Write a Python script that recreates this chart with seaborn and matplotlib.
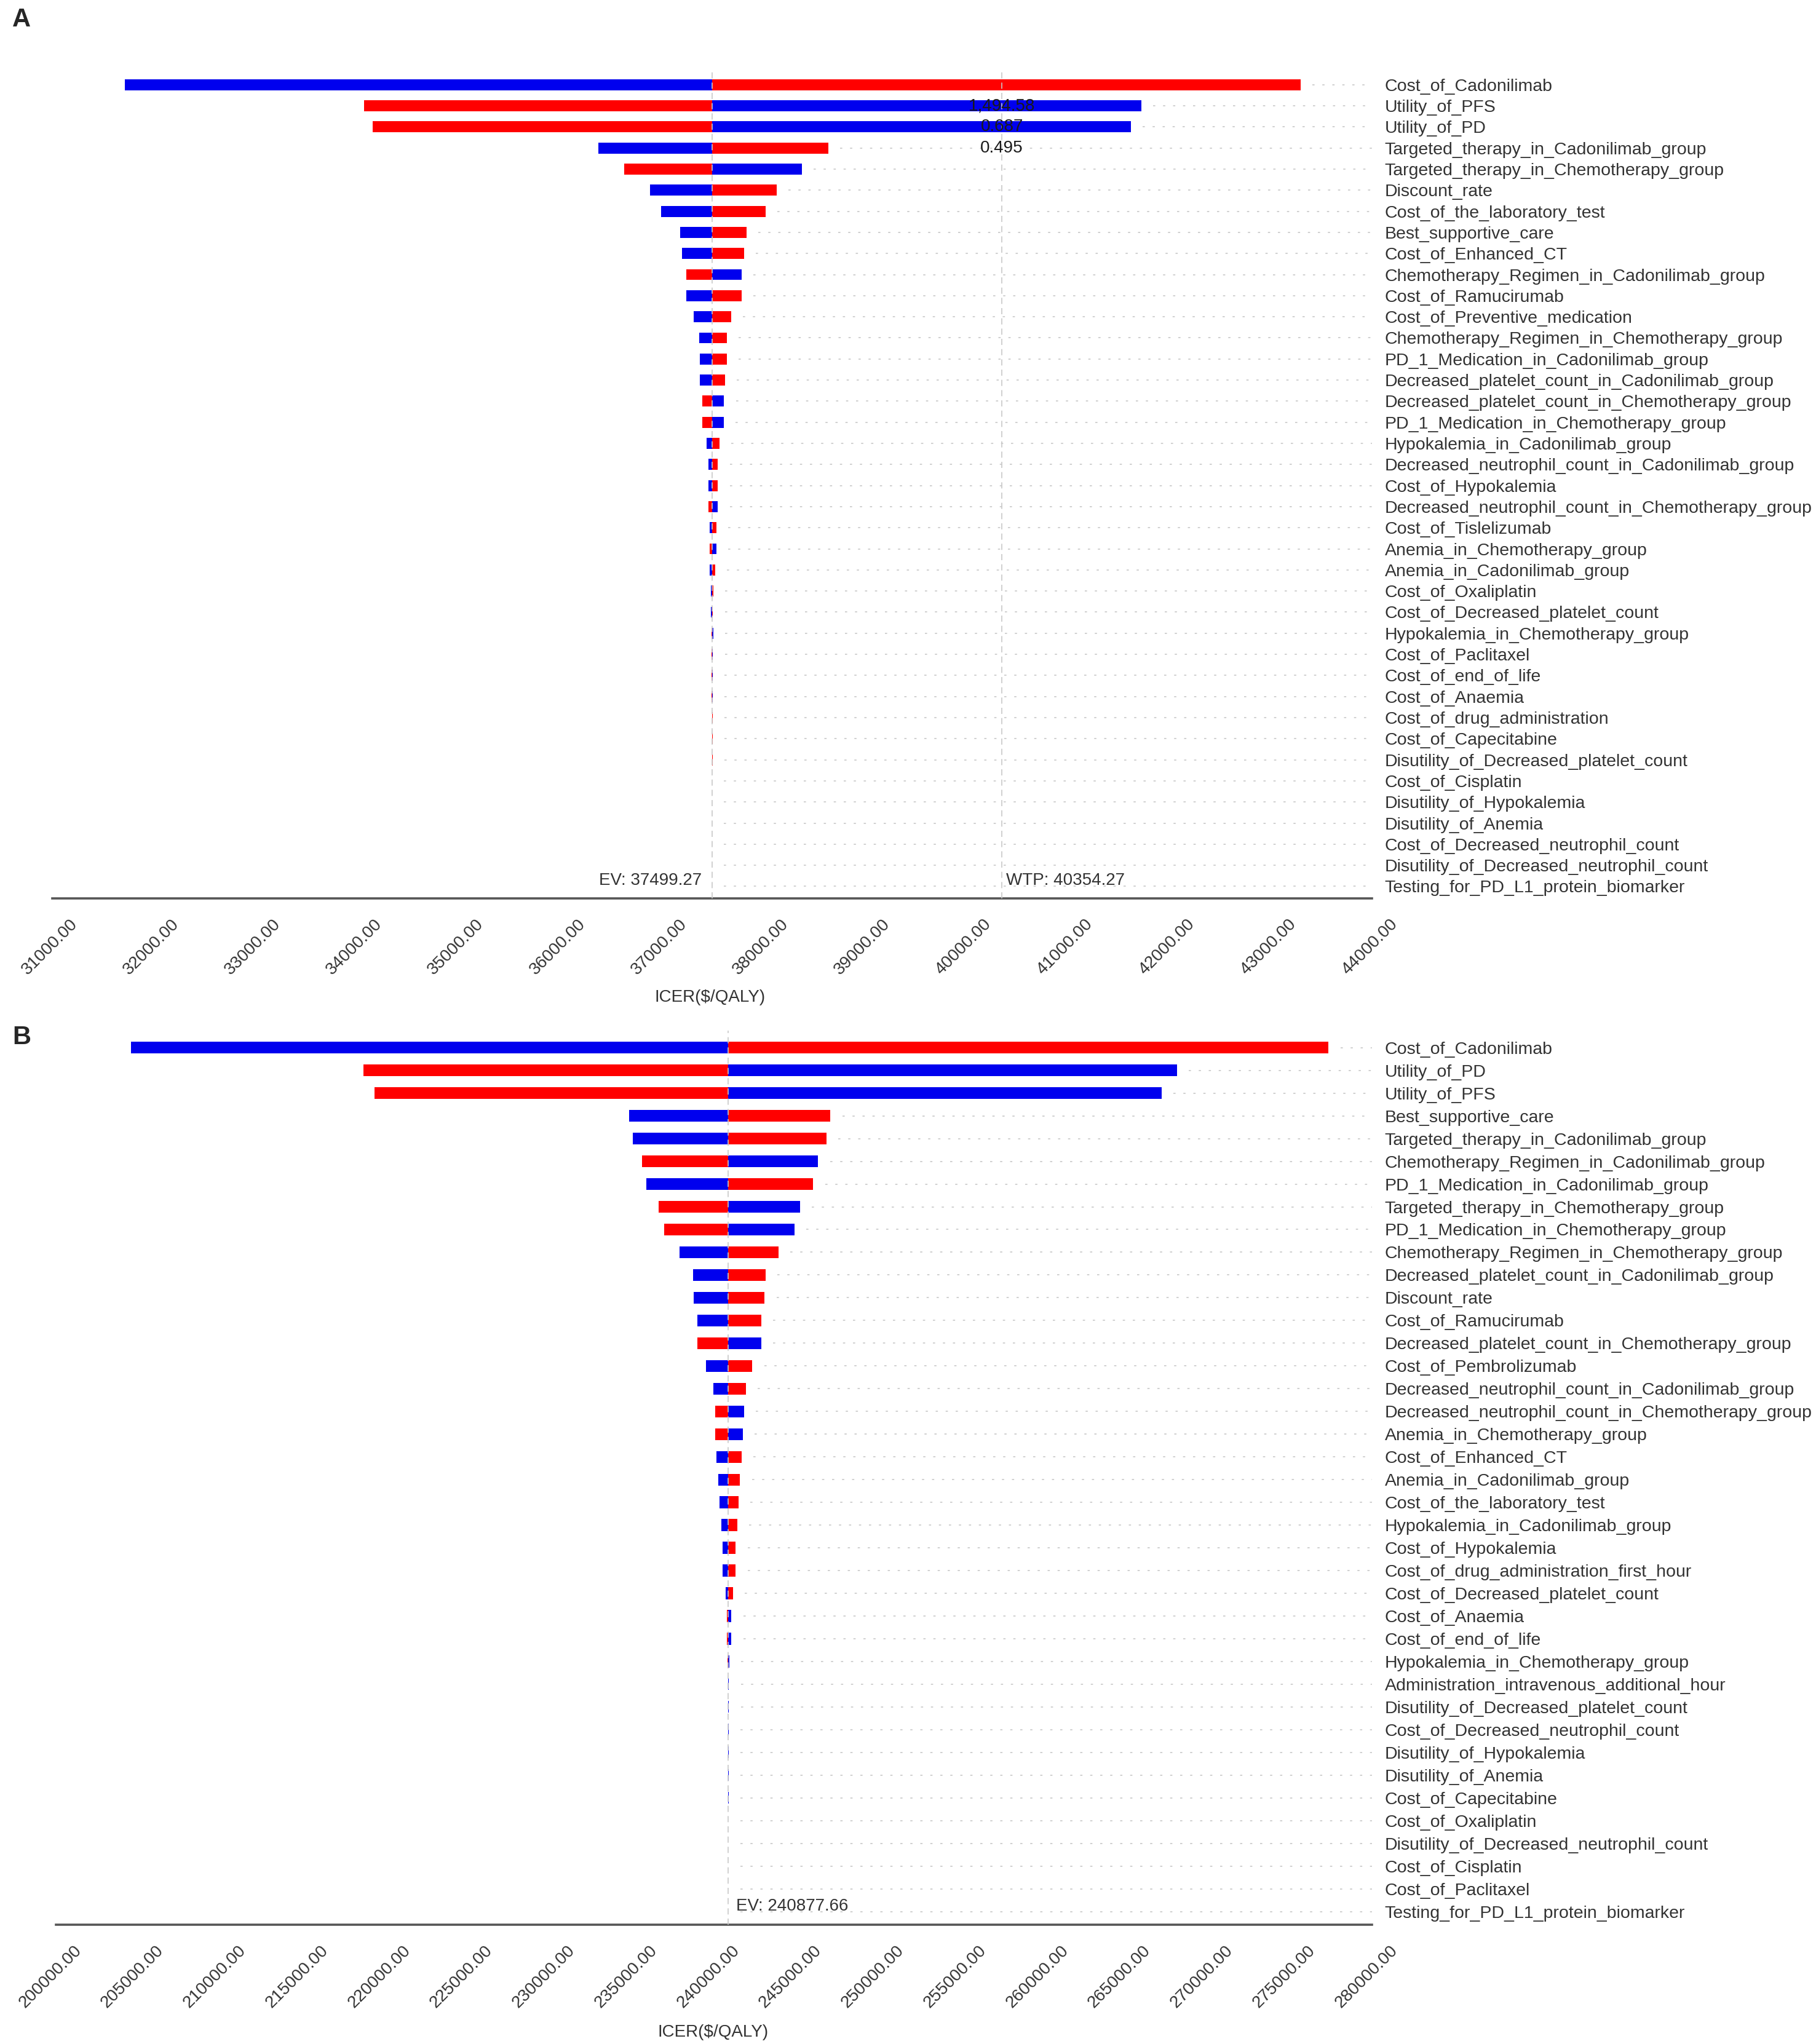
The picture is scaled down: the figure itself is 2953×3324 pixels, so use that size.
import numpy as np
import pandas as pd
import matplotlib
matplotlib.use('Agg')
import matplotlib.pyplot as plt
from matplotlib.transforms import ScaledTranslation
import seaborn as sns

# ---- panel A data (ICER at low value -> blue, at high value -> red)
labels_a = [
    'Cost_of_Cadonilimab', 'Utility_of_PFS', 'Utility_of_PD',
    'Targeted_therapy_in_Cadonilimab_group', 'Targeted_therapy_in_Chemotherapy_group',
    'Discount_rate', 'Cost_of_the_laboratory_test', 'Best_supportive_care',
    'Cost_of_Enhanced_CT', 'Chemotherapy_Regimen_in_Cadonilimab_group',
    'Cost_of_Ramucirumab', 'Cost_of_Preventive_medication',
    'Chemotherapy_Regimen_in_Chemotherapy_group', 'PD_1_Medication_in_Cadonilimab_group',
    'Decreased_platelet_count_in_Cadonilimab_group', 'Decreased_platelet_count_in_Chemotherapy_group',
    'PD_1_Medication_in_Chemotherapy_group', 'Hypokalemia_in_Cadonilimab_group',
    'Decreased_neutrophil_count_in_Cadonilimab_group', 'Cost_of_Hypokalemia',
    'Decreased_neutrophil_count_in_Chemotherapy_group', 'Cost_of_Tislelizumab',
    'Anemia_in_Chemotherapy_group', 'Anemia_in_Cadonilimab_group', 'Cost_of_Oxaliplatin',
    'Cost_of_Decreased_platelet_count', 'Hypokalemia_in_Chemotherapy_group', 'Cost_of_Paclitaxel',
    'Cost_of_end_of_life', 'Cost_of_Anaemia', 'Cost_of_drug_administration',
    'Cost_of_Capecitabine', 'Disutility_of_Decreased_platelet_count', 'Cost_of_Cisplatin',
    'Disutility_of_Hypokalemia', 'Disutility_of_Anemia', 'Cost_of_Decreased_neutrophil_count',
    'Disutility_of_Decreased_neutrophil_count', 'Testing_for_PD_L1_protein_biomarker',
]
low_a = [31717, 41727, 41625, 36378, 38382, 36888, 36998, 37185, 37202, 37788,
         37244, 37321, 37372, 37380, 37380, 37618, 37616, 37447, 37461, 37461,
         37556, 37475, 37541, 37477, 37489, 37489, 37510, 37508, 37507, 37506,
         37497, 37497, 37498, 37499.27, 37499.27, 37499.27, 37499.27, 37499.27, 37499.27]
high_a = [43298, 34069, 34154, 38645, 36633, 38136, 38025, 37839, 37813, 37244,
          37788, 37686, 37643, 37643, 37626, 37404, 37404, 37572, 37556, 37556,
          37461, 37541, 37475, 37530, 37511, 37509, 37496, 37496, 37495, 37496,
          37506, 37505, 37504, 37499.27, 37499.27, 37499.27, 37499.27, 37499.27, 37499.27]
ev_a = 37499.27
wtp_a = 40354.27
thresh_rows_a = [1, 2, 3]
thresh_text_a = ['1,494.58', '0.687', '0.495']
ticks_a = list(range(31000, 44001, 1000))

# ---- panel B data
labels_b = [
    'Cost_of_Cadonilimab', 'Utility_of_PD', 'Utility_of_PFS', 'Best_supportive_care',
    'Targeted_therapy_in_Cadonilimab_group', 'Chemotherapy_Regimen_in_Cadonilimab_group',
    'PD_1_Medication_in_Cadonilimab_group', 'Targeted_therapy_in_Chemotherapy_group',
    'PD_1_Medication_in_Chemotherapy_group', 'Chemotherapy_Regimen_in_Chemotherapy_group',
    'Decreased_platelet_count_in_Cadonilimab_group', 'Discount_rate', 'Cost_of_Ramucirumab',
    'Decreased_platelet_count_in_Chemotherapy_group', 'Cost_of_Pembrolizumab',
    'Decreased_neutrophil_count_in_Cadonilimab_group', 'Decreased_neutrophil_count_in_Chemotherapy_group',
    'Anemia_in_Chemotherapy_group', 'Cost_of_Enhanced_CT', 'Anemia_in_Cadonilimab_group',
    'Cost_of_the_laboratory_test', 'Hypokalemia_in_Cadonilimab_group', 'Cost_of_Hypokalemia',
    'Cost_of_drug_administration_first_hour', 'Cost_of_Decreased_platelet_count', 'Cost_of_Anaemia',
    'Cost_of_end_of_life', 'Hypokalemia_in_Chemotherapy_group', 'Administration_intravenous_additional_hour',
    'Disutility_of_Decreased_platelet_count', 'Cost_of_Decreased_neutrophil_count',
    'Disutility_of_Hypokalemia', 'Disutility_of_Anemia', 'Cost_of_Capecitabine', 'Cost_of_Oxaliplatin',
    'Disutility_of_Decreased_neutrophil_count', 'Cost_of_Cisplatin', 'Cost_of_Paclitaxel',
    'Testing_for_PD_L1_protein_biomarker',
]
low_b = [204549, 268150, 267199, 234823, 235073, 246332, 235874, 245231, 244881, 237925,
         238726, 238776, 238976, 242879, 239527, 239950, 241829, 241762, 240167, 240255,
         240354, 240441, 240529, 240529, 240716, 241065, 241065, 240920, 240915, 240910,
         240905, 240905, 240900, 240900, 240877.66, 240877.66, 240877.66, 240877.66, 240877.66]
high_b = [277357, 218710, 219361, 247083, 246833, 235624, 246032, 236624, 236975, 243930,
          243129, 243079, 242879, 238976, 242329, 241930, 240077, 240093, 241675, 241588,
          241501, 241413, 241326, 241326, 241152, 240800, 240800, 240840, 240845, 240850,
          240855, 240855, 240860, 240860, 240877.66, 240877.66, 240877.66, 240877.66, 240877.66]
ev_b = 240877.66
ticks_b = list(range(200000, 280001, 5000))

BLUE = '#0000EE'
RED = '#FF0000'
W, H = 2953, 3324

sns.set_style('white')
plt.rcParams['font.family'] = ['Liberation Sans', 'DejaVu Sans']

fig = plt.figure(figsize=(W / 100, H / 100), dpi=100)


def draw_panel(ax, labels, low, high, ev, ticks, ybottom=38.57, ytop=-0.75):
    df = pd.DataFrame({'label': labels,
                       'blue': np.array(low) - ev,
                       'red': np.array(high) - ev})
    sns.barplot(data=df, x='blue', y='label', color=BLUE, saturation=1, errorbar=None,
                width=0.52, left=ev, linewidth=0, ax=ax)
    sns.barplot(data=df, x='red', y='label', color=RED, saturation=1, errorbar=None,
                width=0.52, left=ev, linewidth=0, ax=ax)
    x0, x1 = ticks[0], ticks[-1]
    ax.set_xlim(x0, x1)
    ax.set_ylim(ybottom, ytop)
    gap = 0.009 * (x1 - x0)
    for i, (lo, hi) in enumerate(zip(low, high)):
        ax.hlines(i, max(ev, lo, hi) + gap, x1, color='#cdcdcd', lw=1.3,
                  linestyles=(0, (2, 7)), zorder=0)
    ax.axvline(ev, color='#c8c8c8', lw=1.2, ls=(0, (6, 4)), zorder=5)

    for s in ['left', 'right', 'top']:
        ax.spines[s].set_visible(False)
    ax.spines['bottom'].set_color('#555555')
    ax.spines['bottom'].set_linewidth(2.6)

    ax.yaxis.tick_right()
    ax.tick_params(axis='y', length=0, pad=15, labelsize=20.5, labelcolor='#333333')
    ax.set_ylabel('')

    ax.set_xticks(ticks)
    ax.set_xticklabels([f'{t:.2f}' for t in ticks], rotation=45, ha='right', va='top',
                       rotation_mode='anchor')
    ax.tick_params(axis='x', direction='inout', length=20, width=1.2, color='#777777',
                   labelsize=20, labelcolor='#333333', pad=11)
    off = ScaledTranslation(0.28, 0, fig.dpi_scale_trans)
    for lbl in ax.get_xticklabels():
        lbl.set_transform(lbl.get_transform() + off)
    ax.set_xlabel('')


# ---- panel A
ax_a = fig.add_axes([85 / W, 1 - 1461 / H, (2231 - 85) / W, (1461 - 112) / H])
draw_panel(ax_a, labels_a, low_a, high_a, ev_a, ticks_a)
ax_a.axvline(wtp_a, color='#c8c8c8', lw=1.2, ls=(0, (6, 4)), zorder=5)
for r, t in zip(thresh_rows_a, thresh_text_a):
    ax_a.text(wtp_a, r, t, ha='center', va='center', fontsize=20, color='#1a1a1a', zorder=6)
ax_a.annotate(f'EV: {ev_a:.2f}', (ev_a, 37.72), xytext=(-12, 0), textcoords='offset points',
              ha='right', va='center', fontsize=20, color='#333333')
ax_a.annotate(f'WTP: {wtp_a:.2f}', (wtp_a, 37.72), xytext=(5, 0), textcoords='offset points',
              ha='left', va='center', fontsize=20, color='#333333')
fig.text(1155 / W, 1 - 1622 / H, 'ICER($/QALY)', ha='center', va='center', fontsize=20,
         color='#333333')
fig.text(20 / W, 1 - 32 / H, 'A', ha='left', va='center', fontsize=30, fontweight='bold')

# ---- panel B
ax_b = fig.add_axes([91 / W, 1 - 3130 / H, (2231 - 91) / W, (3130 - 1676) / H])
draw_panel(ax_b, labels_b, low_b, high_b, ev_b, ticks_b, ybottom=38.58)
ax_b.annotate(f'EV: {ev_b:.2f}', (ev_b, 37.77), xytext=(9, 0), textcoords='offset points',
              ha='left', va='center', fontsize=20, color='#333333')
fig.text(1160 / W, 1 - 3305 / H, 'ICER($/QALY)', ha='center', va='center', fontsize=20,
         color='#333333')
fig.text(20 / W, 1 - 1687 / H, 'B', ha='left', va='center', fontsize=30, fontweight='bold')

fig.savefig('out.png', dpi=100, facecolor='white')
